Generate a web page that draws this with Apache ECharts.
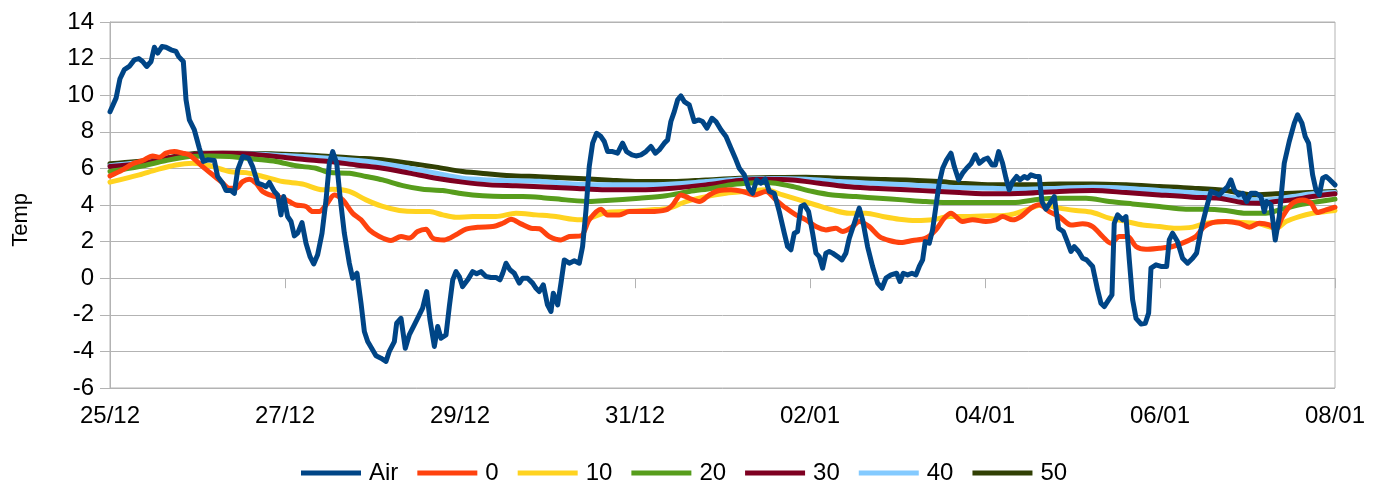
<!DOCTYPE html>
<html>
<head>
<meta charset="utf-8">
<script src="https://cdn.jsdelivr.net/npm/echarts@6/dist/echarts.min.js"></script>
<style>
  html, body { margin: 0; padding: 0; background: #fff; }
  #chart { width: 1387px; height: 486px; }
</style>
</head>
<body>
<div id="chart"></div>
<script>
// x values are days since 25/12 00:00
var tickLabels = ["25/12", "27/12", "29/12", "31/12", "02/01", "04/01", "06/01", "08/01"];
var seriesNames = ["Air", "0", "10", "20", "30", "40", "50"];
var seriesColors = ["#004586", "#ff420e", "#ffd320", "#579d1c", "#7e0021", "#83caff", "#314004"];

var airPoints = [
  [0, 9.1], [0.069, 9.84], [0.114, 10.9], [0.164, 11.4], [0.22, 11.57], [0.278, 11.93], [0.328, 12.0],
  [0.373, 11.84], [0.419, 11.57], [0.469, 11.84], [0.507, 12.62], [0.545, 12.3], [0.594, 12.66],
  [0.64, 12.62], [0.697, 12.48], [0.754, 12.39], [0.785, 12.11], [0.838, 11.84], [0.869, 9.74],
  [0.907, 8.65], [0.964, 8.1], [1.021, 7.1], [1.067, 6.38], [1.116, 6.47], [1.192, 6.43], [1.23, 5.56],
  [1.288, 5.19], [1.326, 4.79], [1.383, 4.79], [1.421, 4.64], [1.459, 5.92], [1.516, 6.65], [1.585, 6.56],
  [1.63, 6.1], [1.688, 5.19], [1.745, 5.1], [1.783, 5.0], [1.821, 5.23], [1.878, 4.74], [1.916, 4.55],
  [1.954, 3.46], [1.985, 4.46], [2.03, 3.37], [2.069, 3.1], [2.107, 2.31], [2.145, 2.46], [2.194, 3.04],
  [2.24, 1.91], [2.286, 1.18], [2.328, 0.78], [2.373, 1.28], [2.423, 2.46], [2.469, 4.28], [2.507, 6.28],
  [2.545, 6.92], [2.591, 6.28], [2.629, 4.46], [2.678, 2.46], [2.735, 0.82], [2.773, 0.0], [2.823, 0.27],
  [2.869, -1.37], [2.907, -2.91], [2.945, -3.46], [3.002, -3.92], [3.04, -4.24], [3.097, -4.37],
  [3.154, -4.55], [3.192, -4.0], [3.25, -3.46], [3.276, -2.46], [3.326, -2.19], [3.375, -3.83],
  [3.42, -3.1], [3.478, -2.55], [3.535, -2.0], [3.573, -1.64], [3.619, -0.73], [3.657, -2.28],
  [3.707, -3.73], [3.745, -2.64], [3.783, -3.28], [3.84, -3.1], [3.878, -1.55], [3.917, -0.09],
  [3.954, 0.36], [3.992, 0.09], [4.03, -0.46], [4.088, -0.09], [4.145, 0.36], [4.19, 0.24], [4.24, 0.36],
  [4.297, 0.09], [4.354, 0.04], [4.411, 0.04], [4.457, -0.09], [4.488, 0.27], [4.526, 0.82], [4.571, 0.46],
  [4.62, 0.27], [4.678, -0.27], [4.716, 0.0], [4.773, 0.0], [4.83, -0.27], [4.869, -0.55],
  [4.906, -0.73], [4.952, -0.36], [5.0, -1.46], [5.04, -1.82], [5.066, -0.82], [5.116, -1.46],
  [5.154, -0.27], [5.192, 1.0], [5.249, 0.82], [5.306, 0.95], [5.363, 0.82], [5.401, 1.73], [5.44, 3.73],
  [5.477, 6.1], [5.516, 7.38], [5.561, 7.92], [5.611, 7.74], [5.649, 7.47], [5.687, 6.92], [5.744, 6.92],
  [5.801, 6.83], [5.858, 7.38], [5.904, 6.92], [5.965, 6.74], [6.011, 6.68], [6.068, 6.74], [6.125, 6.92],
  [6.182, 7.2], [6.232, 6.83], [6.277, 7.01], [6.335, 7.38], [6.373, 7.56], [6.41, 8.56], [6.449, 9.1],
  [6.487, 9.74], [6.525, 9.96], [6.563, 9.65], [6.62, 9.47], [6.677, 8.56], [6.727, 8.65], [6.773, 8.56],
  [6.822, 8.2], [6.88, 8.74], [6.925, 8.56], [6.982, 8.11], [7.04, 7.74], [7.097, 7.1], [7.154, 6.47],
  [7.192, 6.01], [7.249, 5.65], [7.299, 4.92], [7.344, 4.64], [7.39, 5.37], [7.44, 5.19], [7.489, 5.41],
  [7.535, 4.74], [7.592, 4.64], [7.649, 3.64], [7.706, 2.46], [7.744, 1.73], [7.782, 1.55], [7.82, 2.46],
  [7.858, 2.55], [7.896, 3.92], [7.935, 4.01], [7.984, 3.64], [8.03, 2.46], [8.068, 1.37], [8.106, 1.18],
  [8.144, 0.55], [8.182, 1.37], [8.22, 1.46], [8.258, 1.37], [8.315, 1.18], [8.365, 1.0], [8.41, 1.37],
  [8.449, 2.19], [8.506, 3.0], [8.563, 3.83], [8.601, 3.19], [8.658, 1.73], [8.715, 0.64], [8.773, -0.27],
  [8.822, -0.55], [8.868, 0.0], [8.925, 0.18], [8.99, 0.27], [9.028, -0.18], [9.066, 0.27], [9.115, 0.18],
  [9.165, 0.27], [9.211, 0.18], [9.249, 0.64], [9.287, 1.0], [9.317, 2.0], [9.363, 1.91], [9.401, 2.64],
  [9.439, 3.92], [9.477, 5.19], [9.516, 6.01], [9.561, 6.47], [9.611, 6.83], [9.649, 6.1], [9.699, 5.37],
  [9.744, 5.74], [9.79, 6.01], [9.839, 6.25], [9.889, 6.74], [9.935, 6.28], [9.992, 6.5], [10.03, 6.56],
  [10.08, 6.19], [10.118, 6.19], [10.156, 6.92], [10.201, 6.28], [10.24, 5.46], [10.277, 4.83],
  [10.316, 5.28], [10.361, 5.56], [10.4, 5.37], [10.449, 5.56], [10.487, 5.46], [10.525, 5.65],
  [10.575, 5.56], [10.62, 5.56], [10.651, 4.19], [10.696, 3.77], [10.742, 4.1], [10.792, 4.46],
  [10.841, 2.73], [10.895, 2.55], [10.933, 2.09], [10.982, 1.46], [11.02, 1.73], [11.07, 1.46],
  [11.116, 1.09], [11.161, 1.0], [11.23, 0.64], [11.287, -0.64], [11.325, -1.37], [11.363, -1.55],
  [11.413, -1.18], [11.451, -0.91], [11.477, 3.0], [11.515, 3.46], [11.573, 3.19], [11.611, 3.37],
  [11.649, 1.0], [11.687, -1.18], [11.726, -2.19], [11.782, -2.5], [11.832, -2.46], [11.87, -1.91],
  [11.897, 0.55], [11.954, 0.73], [12.011, 0.64], [12.076, 0.64], [12.106, 2.09], [12.144, 2.46],
  [12.2, 2.0], [12.258, 1.09], [12.315, 0.82], [12.373, 1.09], [12.418, 1.37], [12.468, 2.64],
  [12.525, 3.73], [12.582, 4.74], [12.64, 4.64], [12.677, 4.55], [12.735, 4.83], [12.773, 5.0],
  [12.81, 5.37], [12.849, 4.83], [12.898, 4.55], [12.944, 4.64], [12.99, 4.19], [13.04, 4.64],
  [13.097, 4.64], [13.154, 4.46], [13.192, 3.64], [13.218, 4.19], [13.268, 4.01], [13.317, 2.09],
  [13.363, 3.37], [13.42, 6.28], [13.477, 7.47], [13.535, 8.47], [13.573, 8.93], [13.622, 8.47],
  [13.66, 7.74], [13.698, 7.38], [13.744, 5.65], [13.782, 4.83], [13.82, 4.55], [13.859, 5.46],
  [13.897, 5.56], [13.943, 5.37], [14, 5.1]
];

var soil0Points = [
  [0, 5.59], [0.145, 5.92], [0.259, 6.25], [0.373, 6.43], [0.488, 6.68], [0.564, 6.61], [0.64, 6.83],
  [0.735, 6.92], [0.83, 6.83], [0.907, 6.74], [1.059, 6.1], [1.173, 5.65], [1.269, 5.28], [1.364, 4.92],
  [1.44, 4.92], [1.516, 5.28], [1.592, 5.41], [1.669, 5.19], [1.745, 4.74], [1.859, 4.5], [1.973, 4.37],
  [2.05, 4.19], [2.126, 4.0], [2.24, 3.92], [2.316, 3.64], [2.392, 3.64], [2.469, 4.0], [2.564, 4.55],
  [2.659, 4.28], [2.773, 3.55], [2.869, 3.19], [2.964, 2.64], [3.078, 2.28], [3.211, 2.06], [3.326, 2.28],
  [3.421, 2.19], [3.516, 2.55], [3.611, 2.68], [3.688, 2.19], [3.821, 2.09], [3.954, 2.37], [4.069, 2.68],
  [4.221, 2.79], [4.373, 2.82], [4.488, 3.0], [4.583, 3.22], [4.697, 2.97], [4.811, 2.73], [4.906, 2.7],
  [5.02, 2.28], [5.154, 2.09], [5.249, 2.28], [5.382, 2.31], [5.477, 3.19], [5.611, 3.77], [5.687, 3.46],
  [5.82, 3.46], [5.935, 3.64], [6.163, 3.64], [6.354, 3.73], [6.43, 4.0], [6.525, 4.55], [6.62, 4.37],
  [6.735, 4.19], [6.849, 4.55], [6.963, 4.79], [7.097, 4.83], [7.23, 4.74], [7.363, 4.55], [7.497, 4.74],
  [7.61, 4.28], [7.725, 3.83], [7.839, 3.46], [7.954, 3.19], [8.068, 2.82], [8.182, 2.64], [8.296, 2.73],
  [8.373, 2.55], [8.487, 2.82], [8.563, 3.1], [8.677, 2.82], [8.792, 2.28], [8.906, 2.06], [9.039, 1.95],
  [9.173, 2.06], [9.325, 2.19], [9.439, 2.64], [9.535, 3.28], [9.611, 3.55], [9.744, 3.1], [9.858, 3.19],
  [10.01, 3.1], [10.125, 3.19], [10.201, 3.37], [10.316, 3.19], [10.411, 3.37], [10.525, 3.83],
  [10.62, 4.01], [10.735, 3.64], [10.849, 3.37], [10.982, 2.91], [11.116, 2.97], [11.23, 2.82],
  [11.344, 2.28], [11.439, 1.91], [11.535, 2.28], [11.63, 2.28], [11.725, 1.73], [11.839, 1.58],
  [11.992, 1.64], [12.144, 1.73], [12.296, 2.0], [12.41, 2.28], [12.506, 2.82], [12.601, 3.04],
  [12.754, 3.1], [12.906, 3.0], [13.02, 2.79], [13.135, 3.0], [13.249, 2.91], [13.325, 2.68],
  [13.401, 3.37], [13.516, 4.1], [13.63, 4.28], [13.725, 4.1], [13.801, 3.59], [13.897, 3.73], [14, 3.88]
];

var soil10Points = [
  [0, 5.25], [0.335, 5.65], [0.526, 5.92], [0.754, 6.19], [0.945, 6.28], [1.135, 6.16], [1.364, 5.83],
  [1.554, 5.77], [1.745, 5.56], [1.973, 5.28], [2.2, 5.15], [2.43, 4.83], [2.545, 4.86], [2.735, 4.74],
  [2.926, 4.28], [3.116, 3.92], [3.307, 3.7], [3.497, 3.64], [3.65, 3.64], [3.802, 3.46], [3.954, 3.33],
  [4.145, 3.37], [4.411, 3.37], [4.64, 3.55], [4.869, 3.46], [5.097, 3.37], [5.287, 3.22], [5.401, 3.19],
  [5.535, 3.37], [5.668, 3.59], [5.896, 3.64], [6.163, 3.73], [6.392, 3.83], [6.582, 4.19], [6.811, 4.46],
  [7.04, 4.64], [7.268, 4.74], [7.497, 4.83], [7.687, 4.55], [7.877, 4.28], [8.068, 4.0], [8.258, 3.73],
  [8.449, 3.55], [8.639, 3.55], [8.83, 3.37], [9.02, 3.22], [9.211, 3.15], [9.401, 3.19], [9.592, 3.37],
  [9.782, 3.37], [10.087, 3.41], [10.277, 3.46], [10.468, 3.73], [10.658, 4.01], [10.849, 3.83],
  [11.039, 3.7], [11.23, 3.59], [11.42, 3.28], [11.611, 3.1], [11.801, 2.91], [11.992, 2.82],
  [12.182, 2.73], [12.373, 2.79], [12.525, 3.0], [12.754, 3.1], [12.944, 3.04], [13.135, 2.97],
  [13.325, 2.73], [13.44, 3.1], [13.592, 3.37], [13.744, 3.55], [13.897, 3.64], [14, 3.7]
];

var soil20Points = [
  [0, 5.83], [0.335, 6.1], [0.64, 6.43], [0.907, 6.65], [1.135, 6.68], [1.364, 6.65], [1.669, 6.5],
  [1.897, 6.38], [2.126, 6.14], [2.354, 6.01], [2.507, 5.77], [2.735, 5.74], [2.926, 5.56], [3.116, 5.37],
  [3.345, 5.06], [3.573, 4.86], [3.802, 4.79], [4.03, 4.61], [4.259, 4.5], [4.488, 4.46], [4.716, 4.46],
  [4.945, 4.4], [5.211, 4.28], [5.477, 4.19], [5.668, 4.24], [6.049, 4.37], [6.354, 4.5], [6.62, 4.74],
  [6.887, 4.92], [7.078, 5.1], [7.268, 5.19], [7.459, 5.23], [7.61, 5.19], [7.801, 5.01], [8.03, 4.74],
  [8.258, 4.55], [8.525, 4.46], [8.792, 4.37], [9.058, 4.28], [9.325, 4.19], [9.63, 4.13], [10.01, 4.13],
  [10.316, 4.13], [10.62, 4.32], [10.849, 4.37], [11.154, 4.37], [11.42, 4.19], [11.687, 4.06],
  [11.992, 3.92], [12.296, 3.77], [12.525, 3.77], [12.754, 3.7], [12.982, 3.55], [13.211, 3.55],
  [13.363, 3.73], [13.592, 4.01], [13.82, 4.19], [14, 4.32]
];

var soil30Points = [
  [0, 6.1], [0.335, 6.25], [0.716, 6.61], [1.021, 6.79], [1.288, 6.83], [1.592, 6.79], [1.897, 6.65],
  [2.2, 6.5], [2.507, 6.38], [2.811, 6.19], [3.116, 6.01], [3.421, 5.74], [3.726, 5.46], [4.03, 5.25],
  [4.335, 5.1], [4.64, 5.05], [4.906, 5.0], [5.287, 4.92], [5.668, 4.83], [6.049, 4.83], [6.43, 4.92],
  [6.811, 5.1], [7.192, 5.34], [7.497, 5.41], [7.801, 5.37], [8.106, 5.19], [8.41, 5.01], [8.715, 4.92],
  [9.097, 4.83], [9.477, 4.74], [9.706, 4.68], [10.087, 4.61], [10.468, 4.64], [10.849, 4.74],
  [11.23, 4.79], [11.611, 4.68], [11.992, 4.55], [12.373, 4.43], [12.677, 4.37], [12.944, 4.13],
  [13.135, 4.1], [13.325, 4.19], [13.516, 4.28], [13.744, 4.46], [14, 4.61]
];

var soil40Points = [
  [0, 6.15], [0.5, 6.4], [1.0, 6.78], [1.5, 6.8], [2.0, 6.7], [2.5, 6.55], [3.0, 6.35], [3.421, 6.01],
  [3.726, 5.74], [4.03, 5.46], [4.335, 5.37], [4.64, 5.32], [4.906, 5.3], [5.287, 5.15], [5.668, 5.1],
  [6.049, 5.1], [6.43, 5.15], [6.811, 5.28], [7.192, 5.41], [7.573, 5.45], [7.954, 5.41], [8.335, 5.28],
  [8.715, 5.19], [9.097, 5.1], [9.477, 5.01], [9.706, 4.95], [10.087, 4.92], [10.468, 4.86],
  [10.849, 4.92], [11.23, 4.97], [11.611, 4.92], [11.992, 4.79], [12.373, 4.68], [12.677, 4.55],
  [12.944, 4.32], [13.211, 4.28], [13.516, 4.46], [13.744, 4.61], [14, 4.68]
];

var soil50Points = [
  [0, 6.25], [0.526, 6.47], [1.021, 6.83], [1.478, 6.83], [1.897, 6.79], [2.2, 6.74], [2.507, 6.65],
  [2.811, 6.56], [3.116, 6.47], [3.421, 6.28], [3.726, 6.07], [4.03, 5.83], [4.335, 5.7], [4.64, 5.59],
  [4.906, 5.55], [5.287, 5.46], [5.668, 5.37], [6.049, 5.28], [6.43, 5.28], [6.811, 5.37], [7.192, 5.46],
  [7.573, 5.5], [7.954, 5.52], [8.335, 5.46], [8.715, 5.41], [9.097, 5.37], [9.477, 5.28], [9.706, 5.19],
  [10.087, 5.1], [10.468, 5.1], [10.849, 5.15], [11.23, 5.15], [11.611, 5.1], [11.992, 5.01],
  [12.373, 4.92], [12.754, 4.79], [13.058, 4.55], [13.325, 4.61], [13.706, 4.68], [14, 4.74]
];

var allPoints = [airPoints, soil0Points, soil10Points, soil20Points, soil30Points, soil40Points, soil50Points];

var chart = echarts.init(document.getElementById("chart"), null, { renderer: "canvas" });

var series = [];
seriesNames.forEach(function (name, i) {
  series.push({
    type: "line",
    name: name,
    data: allPoints[i],
    // first series is drawn on top, like the original
    z: 20 - i,
    smooth: i === 0 ? false : 0.3,
    showSymbol: false,
    symbol: "none",
    lineStyle: { width: 5, color: seriesColors[i], cap: "round", join: "round" },
    itemStyle: { color: seriesColors[i] },
    emphasis: { disabled: true },
    animation: false
  });
});

var option = {
  backgroundColor: "#ffffff",
  textStyle: { fontFamily: "Liberation Sans, Arial, sans-serif", color: "#000" },
  grid: {
    left: 110,
    right: 52,
    top: 22,
    bottom: 98,
    show: true,
    borderColor: "#b3b3b3",
    borderWidth: 1
  },
  legend: {
    data: seriesNames,
    top: 456,
    left: 296,
    icon: "rect",
    itemWidth: 60,
    itemHeight: 5,
    itemGap: 19,
    textStyle: {
      fontSize: 24,
      color: "#000",
      padding: [0, 0, 0, 3],
      fontFamily: "Liberation Sans, Arial, sans-serif"
    }
  },
  xAxis: {
    type: "value",
    min: 0,
    max: 14,
    interval: 2,
    axisLine: { show: true, lineStyle: { color: "#b3b3b3", width: 1 } },
    axisTick: { show: true, length: 10, lineStyle: { color: "#b3b3b3" } },
    splitLine: { show: false },
    axisLabel: {
      fontSize: 24,
      color: "#000",
      margin: 16,
      formatter: function (v) {
        return tickLabels[Math.round(v / 2)];
      }
    }
  },
  yAxis: {
    type: "value",
    min: -6,
    max: 14,
    interval: 2,
    axisLine: { show: true, lineStyle: { color: "#b3b3b3", width: 1 } },
    axisTick: { show: true, length: 10, lineStyle: { color: "#b3b3b3" } },
    splitLine: { show: true, lineStyle: { color: "#b3b3b3", width: 1 } },
    axisLabel: { fontSize: 24, color: "#000", margin: 16 }
  },
  graphic: [
    {
      type: "text",
      left: 10,
      top: 193,
      rotation: Math.PI / 2,
      style: {
        text: "Temp",
        font: "22px 'Liberation Sans', Arial, sans-serif",
        fill: "#000"
      }
    }
  ],
  series: series
};

chart.setOption(option);
</script>
</body>
</html>
